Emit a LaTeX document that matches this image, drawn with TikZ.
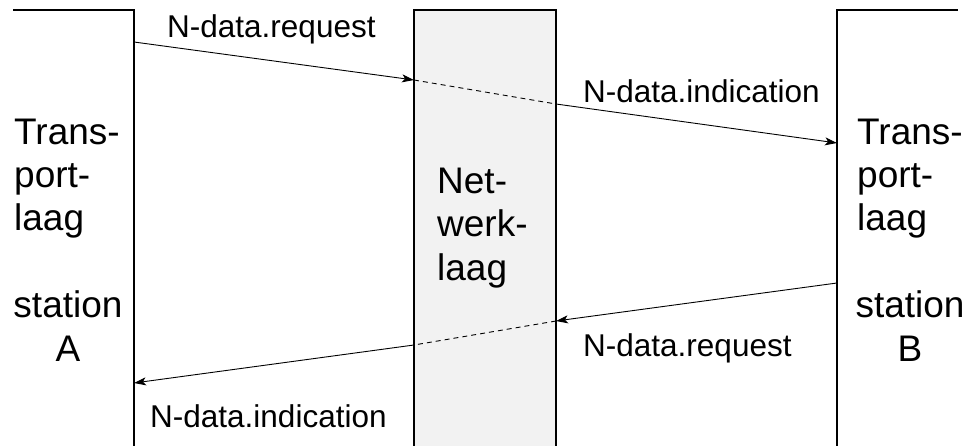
\documentclass[tikz,border=0pt]{standalone}
\usepackage{fontspec}
\setmainfont{Liberation Sans}
\usetikzlibrary{arrows.meta}
\definecolor{netfill}{HTML}{F2F2F2}
\begin{document}
\begin{tikzpicture}[x=1pt,y=-1pt,
  layer/.style={line width=2pt},
  msg/.style={line width=0.9pt,-{Stealth[length=12pt,width=8pt,inset=3pt]}},
  cont/.style={line width=0.9pt,dash pattern=on 5pt off 4pt},
  big/.style={font=\fontsize{37}{43}\selectfont, inner sep=0pt},
  lbl/.style={font=\fontsize{31.5}{36}\selectfont, inner sep=0pt, anchor=base west}]
\useasboundingbox (0,0) rectangle (967,446);

% layer outlines (open at the bottom)
\fill[netfill] (414,10) rectangle (556,450);
\draw[layer] (13,10) -- (134,10) -- (134,450);
\draw[layer] (414,450) -- (414,10) -- (556,10) -- (556,450);
\draw[layer] (837,450) -- (837,10) -- (958,10);

% crossing points of the primitives
\coordinate (a1) at (134,42);
\coordinate (n1) at (414,80);
\coordinate (n2) at (556,104);
\coordinate (b1) at (837,143);
\coordinate (b2) at (837,283);
\coordinate (n3) at (556,321);
\coordinate (n4) at (414,345);
\coordinate (a2) at (134,383);

\draw[msg] (a1) -- (n1);
\draw[cont] (n1) -- (n2);
\draw[msg] (n2) -- (b1);
\draw[msg] (b2) -- (n3);
\draw[cont] (n3) -- (n4);
\draw[msg] (n4) -- (a2);

% primitive labels
\node[lbl] (lreqA) at (167,38) {N-data.request};
\node[lbl] (lindB) at (583,103) {N-data.indication};
\node[lbl] (lreqB) at (583,357) {N-data.request};
\node[lbl] (lindA) at (150,428) {N-data.indication};

% station A
\node[big,anchor=base west] (tA1) at (14,145) {Trans-};
\node[big,anchor=base west] (tA2) at (14,188) {port-};
\node[big,anchor=base west] (tA3) at (14,231) {laag};
\node[big,anchor=base] (sA1) at (68,318) {station};
\node[big,anchor=base] (sA2) at (68,362) {A};

% network layer
\node[big,anchor=base west] (nw1) at (437,194) {Net-};
\node[big,anchor=base west] (nw2) at (437,237) {werk-};
\node[big,anchor=base west] (nw3) at (437,281) {laag};

% station B
\node[big,anchor=base west] (tB1) at (857,145) {Trans-};
\node[big,anchor=base west] (tB2) at (857,188) {port-};
\node[big,anchor=base west] (tB3) at (857,231) {laag};
\node[big,anchor=base] (sB1) at (910,318) {station};
\node[big,anchor=base] (sB2) at (910,362) {B};
\end{tikzpicture}
\end{document}
